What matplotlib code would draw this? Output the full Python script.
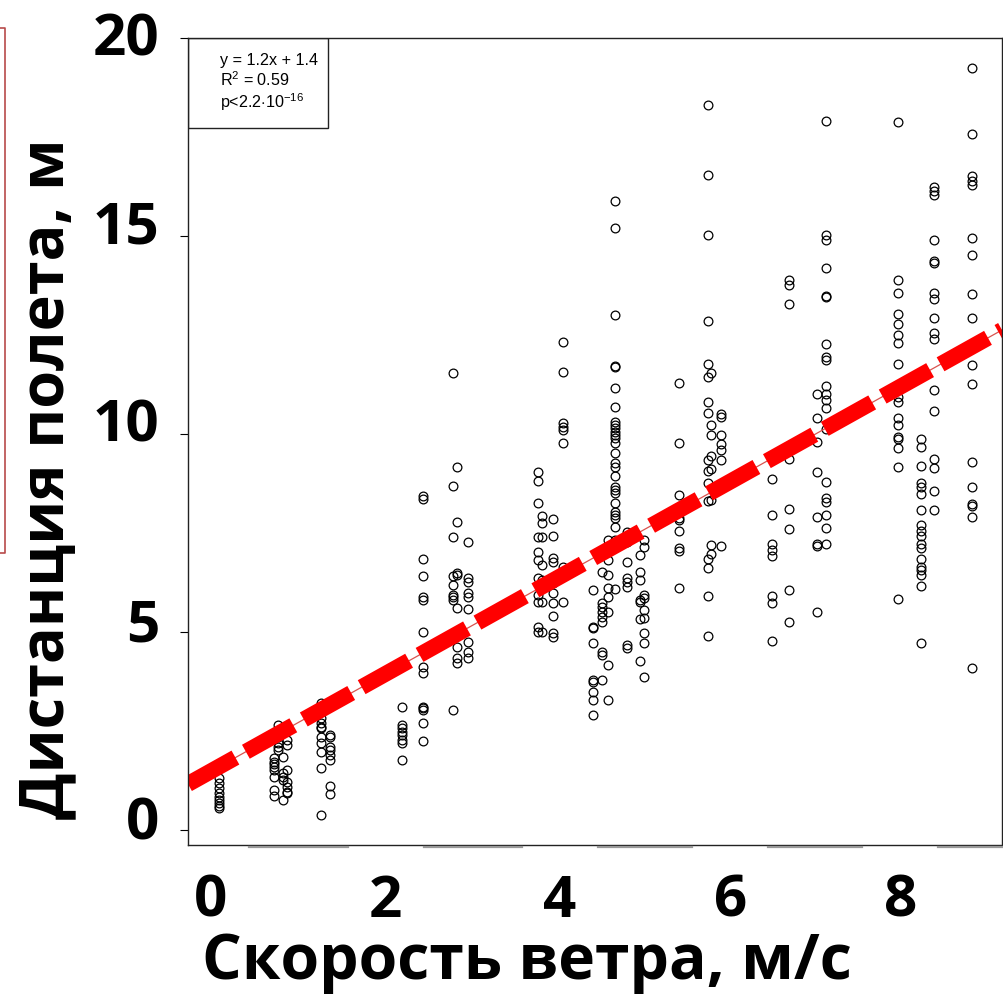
import matplotlib
matplotlib.use("Agg")
import matplotlib.pyplot as plt
from matplotlib.lines import Line2D
from matplotlib.patches import Rectangle
from matplotlib.transforms import ScaledTranslation
import numpy as np

plt.rcParams['mathtext.fontset'] = 'custom'
plt.rcParams['mathtext.rm'] = 'Liberation Sans'
plt.rcParams['mathtext.it'] = 'Liberation Sans:italic'

# wind speed of each vertical group of points, m/s
WIND_SPEED = [0.24, 0.88, 0.93, 0.99, 1.04, 1.43, 1.54, 2.37, 2.62, 2.97,
              3.02, 3.14, 3.96, 4.00, 4.13, 4.25, 4.60, 4.70, 4.77, 4.85,
              5.00, 5.15, 5.19, 5.60, 5.94, 5.97, 6.09, 6.68, 6.88, 7.21,
              7.31, 8.15, 8.42, 8.57, 9.01]

# flight distance of the seeds in each group, m
DISTANCE = [
    [1.31, 1.19, 1.06, 0.93, 0.83, 0.76, 0.68, 0.61, 0.56],
    [1.82, 1.72, 1.67, 1.59, 1.52, 1.34, 1.01, 0.86],
    [2.65, 2.35, 2.20, 2.10, 2.02],
    [1.84, 1.44, 1.34, 1.26, 0.76],
    [2.53, 2.27, 2.15, 1.52, 1.21, 1.09, 0.96, 0.93],
    [3.21, 2.98, 2.83, 2.70, 2.60, 2.58, 2.35, 2.20, 1.97, 1.57, 0.38],
    [2.40, 2.35, 2.10, 2.02, 1.89, 1.77, 1.11, 0.91],
    [3.11, 2.65, 2.58, 2.47, 2.40, 2.27, 2.20, 1.77],
    [8.43, 8.36, 6.84, 6.41, 5.88, 5.81, 5.00, 4.12, 3.96, 3.11, 3.08, 3.03, 2.70, 2.25],
    [11.54, 8.69, 7.40, 6.41, 6.19, 5.93, 5.88, 5.81, 3.03],
    [9.17, 7.78, 6.49, 6.44, 5.61, 4.62, 4.34, 4.22],
    [7.27, 6.36, 6.26, 5.98, 5.88, 5.58, 4.75, 4.49, 4.34],
    [9.04, 8.81, 8.26, 7.40, 7.02, 6.82, 6.36, 5.93, 5.76, 5.13, 5.00],
    [7.93, 7.75, 7.40, 6.69, 6.31, 5.76, 5.00],
    [7.85, 7.42, 6.87, 6.77, 6.24, 5.98, 5.73, 5.40, 4.97, 4.87],
    [12.32, 11.57, 10.28, 10.18, 10.10, 9.77, 6.64, 5.76],
    [6.06, 5.13, 5.10, 4.72, 3.79, 3.74, 3.48, 3.28, 2.90],
    [6.52, 5.73, 5.63, 5.51, 5.38, 5.25, 4.49, 4.42, 3.79],
    [7.32, 6.82, 6.44, 6.11, 5.88, 5.51, 4.17, 3.28],
    [15.88, 15.20, 13.01, 11.72, 11.69, 11.16, 10.68, 10.30, 10.23, 10.15,
     10.05, 9.97, 9.90, 9.77, 9.52, 9.27, 9.17, 8.94, 8.66, 8.59, 8.51,
     8.26, 8.03, 7.95, 7.88, 7.65, 7.32, 6.09],
    [7.53, 7.27, 6.77, 6.36, 6.26, 6.14, 4.67, 4.60],
    [6.94, 6.52, 6.31, 5.81, 5.76, 5.33, 4.27],
    [7.32, 7.15, 5.93, 5.86, 5.56, 5.35, 4.97, 4.72, 3.86],
    [11.29, 9.77, 8.46, 7.88, 7.83, 7.55, 7.12, 7.05, 6.11],
    [18.32, 16.53, 15.02, 12.85, 11.77, 11.43, 10.82, 10.53, 9.35, 9.06,
     8.77, 8.31, 6.84, 6.62, 5.92, 4.90],
    [11.53, 10.22, 9.98, 9.45, 9.11, 8.34, 7.20, 6.98],
    [10.51, 10.43, 9.98, 9.74, 9.59, 9.35, 7.18],
    [8.87, 7.95, 7.22, 7.08, 6.93, 5.90, 5.73, 4.76],
    [13.89, 13.75, 13.29, 9.37, 8.11, 7.61, 6.06, 5.24],
    [11.02, 10.41, 9.79, 9.04, 7.90, 7.22, 7.18, 5.51],
    [17.90, 15.03, 14.91, 14.18, 13.49, 13.46, 12.27, 11.94, 11.88, 11.20,
     11.01, 10.85, 10.65, 10.12, 8.79, 8.38, 8.29, 7.95, 7.63, 7.22],
    [17.88, 13.89, 13.55, 13.02, 12.78, 12.49, 12.30, 11.77, 10.94, 10.80,
     10.41, 10.22, 9.93, 9.88, 9.64, 9.16, 5.82],
    [9.88, 9.66, 9.20, 8.77, 8.67, 8.48, 8.09, 7.71, 7.56, 7.42, 7.22, 7.13,
     6.84, 6.64, 6.57, 6.45, 6.16, 4.71],
    [16.23, 16.13, 16.04, 14.91, 14.38, 14.33, 13.55, 13.41, 12.93, 12.54,
     12.39, 11.12, 10.58, 9.38, 9.14, 8.56, 8.07],
    [19.24, 17.57, 16.52, 16.40, 16.29, 14.94, 14.52, 13.53, 12.93, 11.74,
     11.26, 9.28, 8.67, 8.24, 8.19, 7.90, 4.10],
]

# regression line as drawn, and the printed fit summary
FIT_SLOPE = 1.21
FIT_INTERCEPT = 1.3
FIT_TEXT = ["y = 1.2x + 1.4", r"R$^2$ = 0.59", r"p<2.2$\cdot$10$^{-16}$"]

X_TICKS = [0, 2, 4, 6, 8]
Y_TICKS = [0, 5, 10, 15, 20]
X_LABEL_SHIFT = [13, 16, 18, 17, 15]   # px, labels were placed by hand
Y_LABEL_SHIFT = [12, 12, 14, 14, 4]

XLABEL = "Скорость ветра, м/с"
YLABEL = "Дистанция полета, м"

W, H = 1004, 1002
BIG = dict(family='Open Sans', fontweight='bold', color='black')

fig = plt.figure(figsize=(W / 100, H / 100), dpi=100, facecolor='white')
ax = fig.add_axes([188 / W, 1 - 845 / H, 814 / W, 807 / H])

xs = np.concatenate([[x] * len(d) for x, d in zip(WIND_SPEED, DISTANCE)])
ys = np.concatenate(DISTANCE)
ax.plot(xs, ys, 'o', ls='none', mfc='none', mec='black', ms=6.3, mew=0.9)

ax.set_xlim(-0.116, 9.36)
ax.set_ylim(-0.38, 20.0)

xl = np.array(ax.get_xlim())
yl = FIT_INTERCEPT + FIT_SLOPE * xl
ax.plot(xl, yl, color='#d9534f', lw=0.9)
ax.plot(xl, yl, color='#ff0000', lw=11.5, dashes=(3.4, 0.75), dash_capstyle='butt')

for s in ax.spines.values():
    s.set_linewidth(1.0)
    s.set_color('#222222')

ax.set_xticks(X_TICKS)
ax.set_yticks(Y_TICKS)
ax.set_xticklabels([str(t) for t in X_TICKS], fontsize=42, **BIG)
ax.set_yticklabels([str(t) for t in Y_TICKS], fontsize=42, **BIG)
ax.tick_params(axis='x', length=0, pad=20)
ax.tick_params(axis='y', direction='out', length=5.8, width=0.8, pad=15)

for lab, s in zip(ax.get_xticklabels(), X_LABEL_SHIFT):
    lab.set_transform(lab.get_transform() + ScaledTranslation(s / 100, 0, fig.dpi_scale_trans))
for lab, s in zip(ax.get_yticklabels(), Y_LABEL_SHIFT):
    lab.set_transform(lab.get_transform() + ScaledTranslation(0, s / 100, fig.dpi_scale_trans))

# fit summary box in the top-left corner
ax.add_patch(Rectangle((0, 1 - 90 / 807), 140 / 814, 90 / 807, transform=ax.transAxes,
                       fill=False, lw=1.0, ec='#222222'))
for i, t in enumerate(FIT_TEXT):
    ax.text(32 / 814, 1 - (27 + 21.5 * i) / 807, t, transform=ax.transAxes,
            family='Liberation Sans', fontsize=11.6, ha='left', va='baseline')

# grey remains of the original axis line, broken under each tick label
tick_px = [188 + (t - xl[0]) / (xl[1] - xl[0]) * 814 + s for t, s in zip(X_TICKS, X_LABEL_SHIFT)]
starts = [c + 38 for c in tick_px]
ends = [c - 38 for c in tick_px[1:]] + [W]
for a, b in zip(starts, ends):
    fig.add_artist(Line2D([a / W, b / W], [1 - 847 / H] * 2, color='#999999', lw=1.6))

# edge of the red frame at the left border
fig.add_artist(Line2D(np.array([0, 5, 5, 0]) / W, 1 - np.array([28, 28, 553, 553]) / H,
                      color='#b84a4a', lw=1.2))

fig.text(527 / W, 1 - 962 / H, XLABEL, fontsize=45, ha='center', va='center', **BIG)
fig.text(48 / W, 1 - 479 / H, YLABEL, fontsize=44, rotation=90, ha='center', va='center', **BIG)

fig.savefig('out.png', dpi=100, facecolor='white')
